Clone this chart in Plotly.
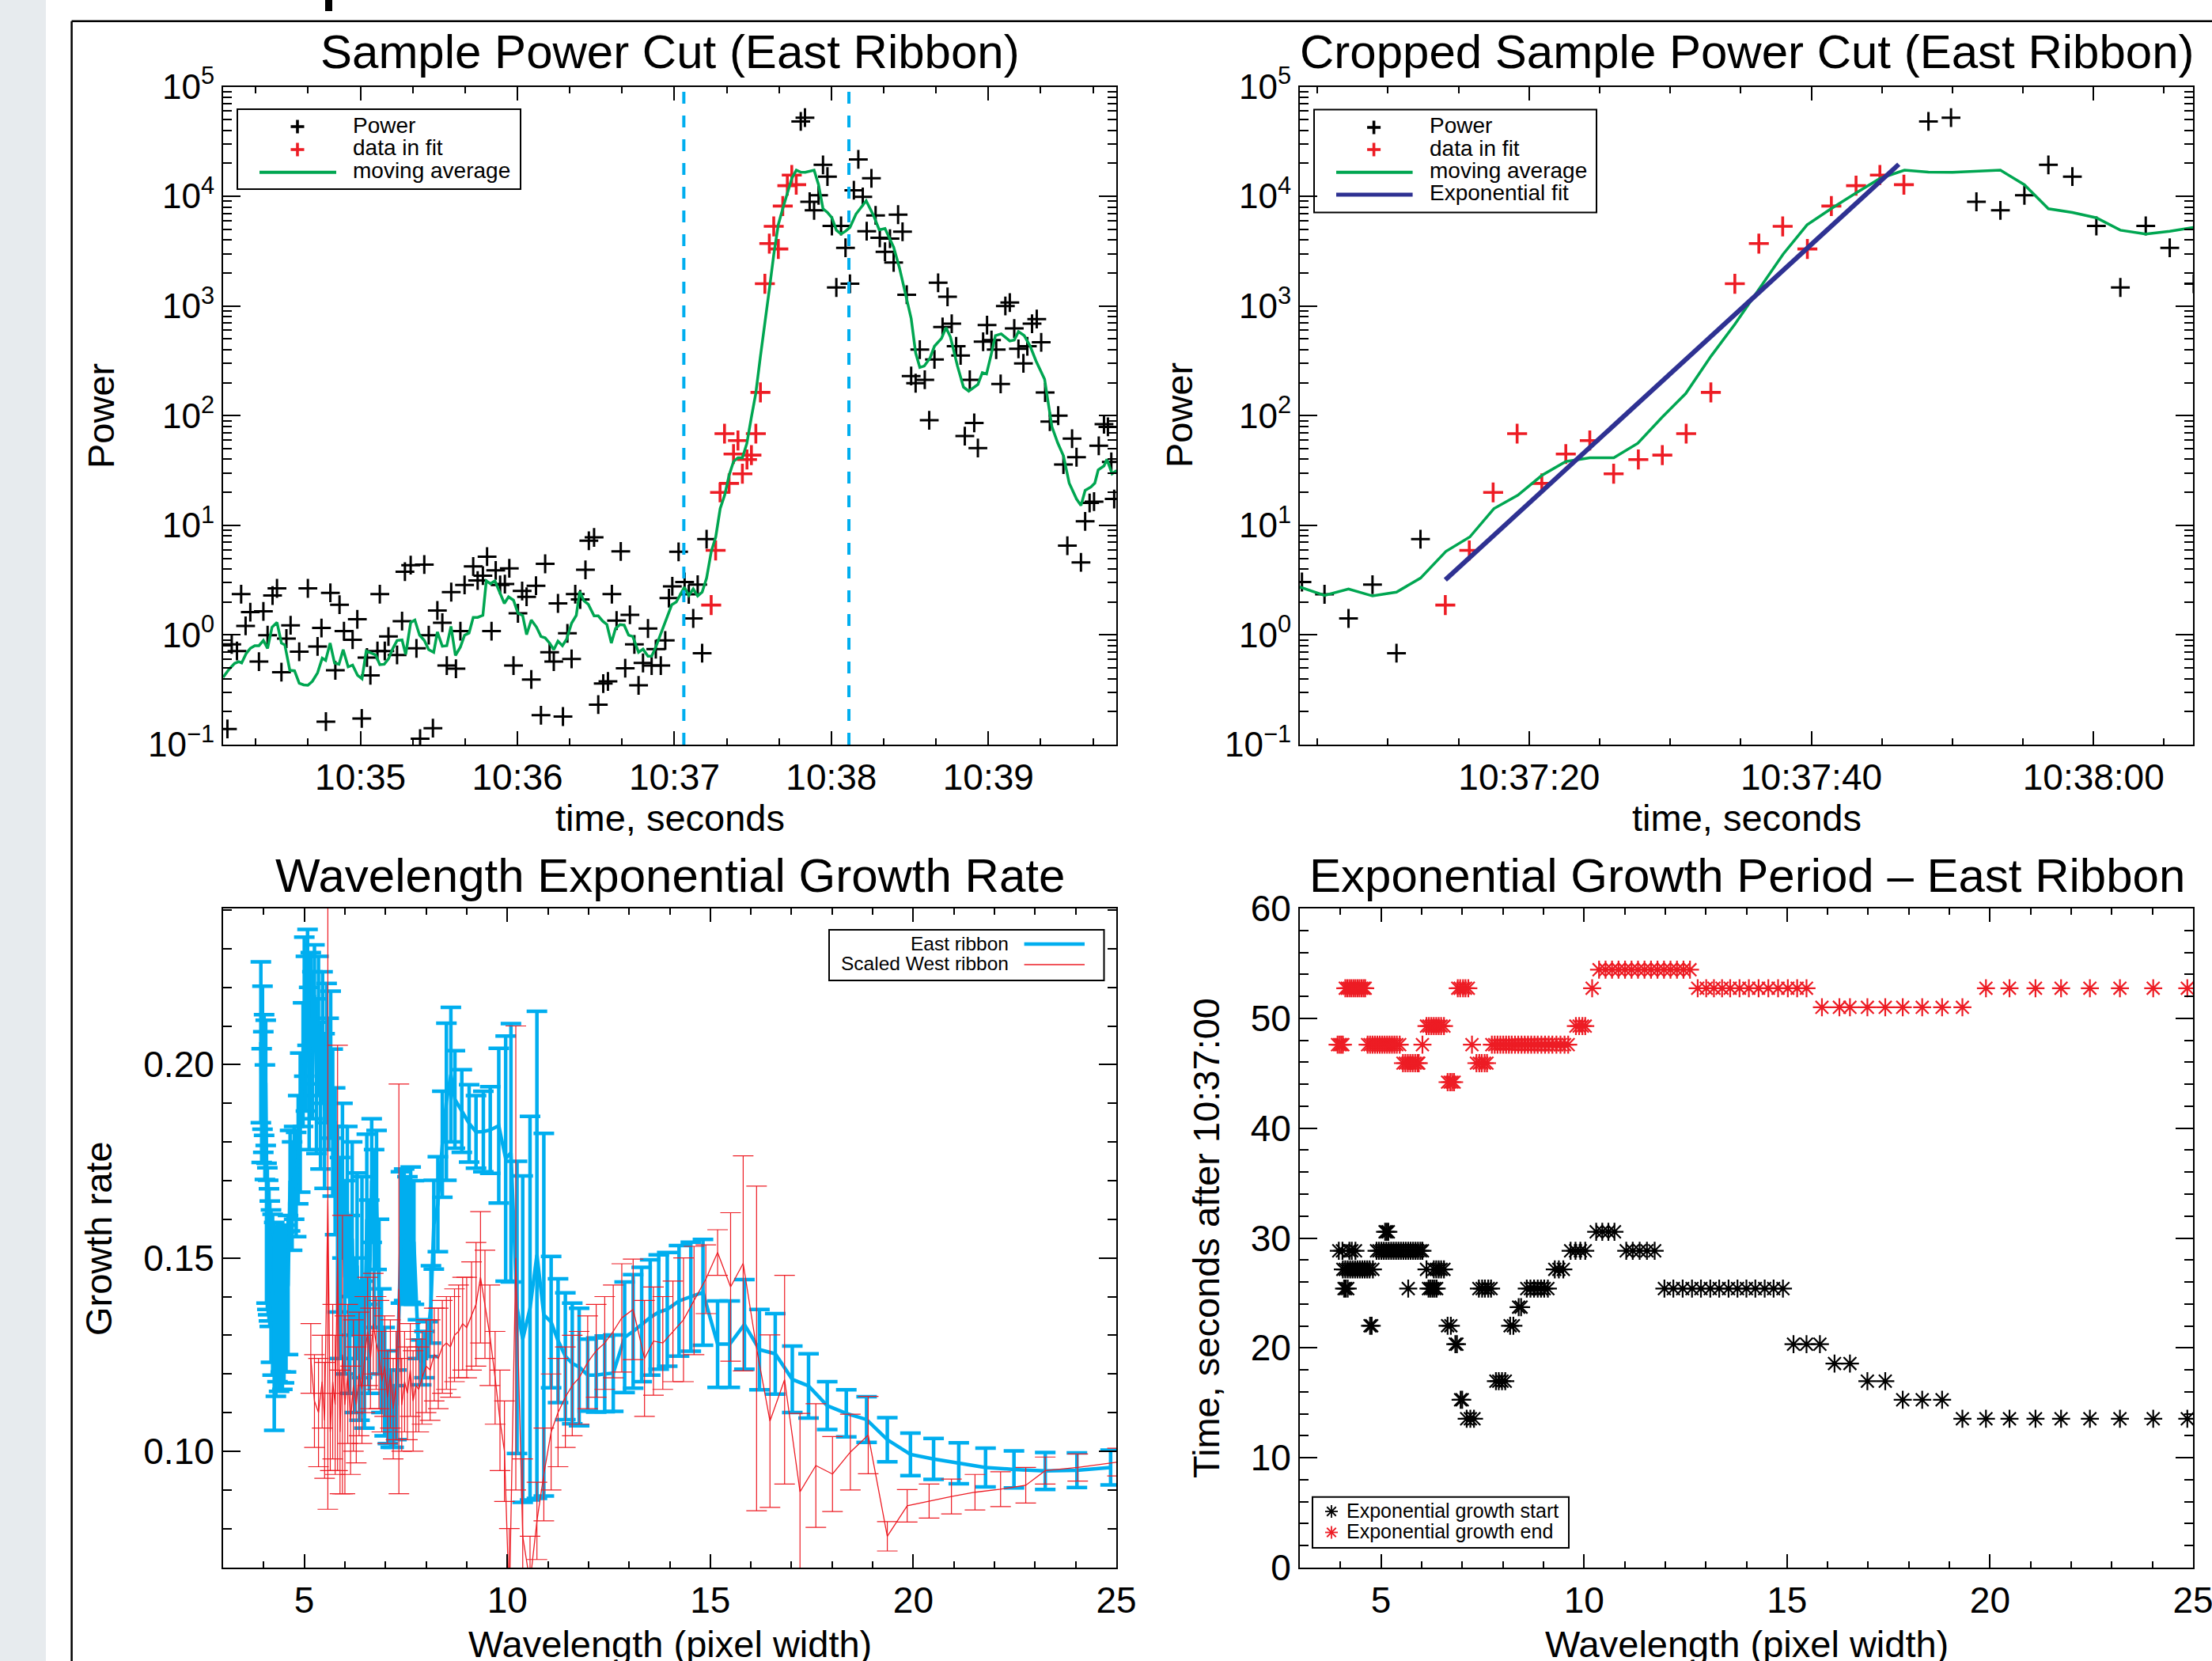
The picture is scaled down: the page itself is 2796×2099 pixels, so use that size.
import plotly.graph_objects as go
import pandas as pd

W, H = 2796, 2099
FONT = "Liberation Sans, Arial, Helvetica, sans-serif"
BLUE = "#00aeef"
RED = "#ed1c24"
GREEN = "#00a651"
NAVY = "#2e3192"

# ---------------- Power cut (seconds after 10:34:00, log10 power) ----------------
power_t = [9.15, 10.8, 12.8, 14.4, 16.1, 17.9, 21.2, 22.9, 24.5, 26.4, 28.1, 29.8, 31.7, 33.3, 35.0,
           36.6, 39.9, 43.6, 45.1, 46.8, 48.5, 50.4, 52.0, 53.7, 57.0, 58.8, 60.5, 62.5, 63.8, 66.5,
           67.4, 69.3, 70.7, 74.0, 75.9, 77.0, 79.2, 81.4, 82.8, 84.4, 86.1, 87.7, 89.4, 91.3, 93.0,
           94.7, 96.5, 98.2, 99.8, 103.1, 104.8, 106.8, 108.4, 110.1, 111.7, 113.4, 115.2, 116.9,
           118.5, 120.2, 121.8, 123.5, 125.3, 127.1, 129.0, 130.6, 132.3, 133.9, 135.5, 137.4, 139.1,
           140.7, 142.1, 144.0, 146.0, 147.3, 149.3, 150.9, 152.8, 154.6, 156.1, 157.9, 159.5, 161.2,
           163.0, 164.7, 166.3, 168.0, 169.9, 171.3, 172.9, 174.8, 176.5, 177.9, 179.2, 181.6, 183.9,
           185.5, 187.2, 188.9, 190.6, 192.3,
           228.3, 229.9, 231.7, 233.4, 235.1, 236.8, 238.5, 240.2, 241.9, 243.7, 245.4, 247.1, 248.6,
           250.3, 252.0, 253.5, 255.3, 256.9, 258.5, 260.5, 262.4, 263.8, 265.5, 267.2, 268.8, 270.5,
           272.2, 273.8, 275.7, 277.4, 279.4, 280.8, 282.5, 284.4, 286.0, 287.7, 289.4, 291.0, 292.9,
           294.6, 296.0, 298.0, 299.5, 301.2, 303.0, 304.7, 306.5, 308.2, 309.9, 311.5, 313.4, 314.9,
           316.7, 318.5, 320.2, 321.7, 323.5, 326.7, 328.7, 330.2, 332.0, 333.7, 335.4, 337.0, 338.7,
           340.4, 342.2, 344.2, 345.7, 347.0, 348.1]
power_log = [-0.857, -0.086, -0.146, 0.372, 0.083, 0.208, -0.243, 0.215, -0.002, 0.36, 0.425, -0.339,
             -0.033, 0.088, -1.15, -0.153, 0.425, -0.105, 0.064, -0.79, 0.384, -0.322, 0.276, 0.035,
             -0.043, 0.143, -0.761, -0.206, -0.368, -0.146, 0.372, -0.146, -0.014, -0.182, 0.126,
             0.577, 0.637, -0.122, -0.946, 0.642, -0.002, -0.85, 0.223, 0.112, -0.279, 0.391, -0.308,
             0.035, 0.456, 0.625, 0.497, 0.541, 0.714, 0.035, 0.589, 0.456, 0.464, 0.608, -0.279,
             0.198, 0.401, 0.348, -0.406, 0.449, -0.732, 0.649, -0.158, -0.243, 0.288, -0.744, 0.015,
             -0.218, 0.372, 0.324, 0.594, 0.859, 0.89, -0.635, -0.443, -0.423, 0.372, 0.131, 0.762,
             -0.303, 0.184, -0.086, -0.459, -0.255, 0.059, -0.279, -0.129, -0.279, -0.05, 0.336, 0.444,
             0.758, 0.483, 0.371, 0.151, 0.459, -0.166, 0.874,
             4.683, 4.717, 3.95, 3.872, 4.009, 4.287, 4.18, 3.73, 3.169, 3.73, 3.53, 3.203, 4.055,
             4.337, 3.995, 3.682, 4.164, 3.826, 3.621, 3.494, 3.614, 3.397, 3.833, 3.677, 3.103, 2.361,
             2.296, 2.602, 2.327, 1.958, 2.513, 3.212, 2.809, 3.084, 2.838, 2.633, 2.549, 1.814, 2.327,
             1.934, 1.705, 2.674, 2.826, 2.689, 2.602, 2.289, 3.0, 3.031, 2.795, 2.609, 2.477, 2.633,
             2.838, 2.881, 2.669, 2.211, 1.946, 2.0, 1.554, 0.814, 1.79, 1.621, 0.662, 1.036, 1.204,
             1.216, 1.725, 1.922, 1.898, 1.578, 1.24]

fit_t = [194.06, 195.76, 197.45, 199.15, 200.9, 202.6, 204.3, 205.99, 207.74, 209.44, 211.13, 212.88,
         214.58, 216.28, 217.97, 219.72, 221.42, 223.17, 224.86, 226.56]
fit_log = [0.273, 0.771, 1.30, 1.836, 1.382, 1.65, 1.773, 1.47, 1.60, 1.64, 1.836, 2.212, 3.203, 3.569,
           3.726, 3.52, 3.911, 4.097, 4.194, 4.106]

ma_t = [7.5, 9.7, 11.9, 13.5, 14.6, 16.3, 17.9, 19.6, 21.2, 22.9, 24.5, 26.2, 28.1, 29.8, 31.1, 33.0,
        34.8, 36.6, 38.3, 39.9, 41.6, 43.6, 45.4, 46.7, 48.4, 50.1, 51.8, 53.4, 55.3, 57.0, 58.9, 60.6,
        62.2, 64.1, 65.8, 67.4, 69.1, 70.7, 72.4, 74.0, 75.9, 77.3, 79.2, 80.8, 82.6, 84.4, 86.1, 88.0,
        89.4, 91.3, 93.0, 94.6, 96.3, 98.2, 99.8, 101.5, 103.1, 104.8, 106.8, 108.1, 109.7, 111.4, 113.3,
        115.0, 116.6, 118.5, 120.2, 122.0, 123.5, 125.3, 127.3, 129.0, 130.6, 132.3, 133.9, 135.5, 137.2,
        138.8, 140.7, 142.5, 143.8, 145.4, 147.1, 149.3, 150.9, 152.6, 154.2, 155.9, 157.5, 159.2, 160.8,
        162.5, 164.1, 166.3, 168.0, 169.9, 171.3, 172.9, 174.6, 176.8, 179.0, 180.7, 183.8, 185.5, 187.2,
        188.9, 190.6, 192.3, 194.1, 195.8, 197.5, 199.2, 200.9, 202.6, 204.3, 206.0, 207.7, 209.4, 211.1,
        212.9, 214.6, 216.3, 218.0, 219.7, 221.4, 223.2, 224.9, 226.6, 228.3, 230.0, 231.7, 233.4, 235.1,
        236.8, 238.5, 240.2, 241.9, 243.7, 245.4, 247.1, 249.4, 251.4, 253.3, 256.1, 258.3, 260.5, 263.8,
        266.0, 268.3, 270.5, 272.2, 273.8, 275.5, 277.7, 279.4, 282.1, 283.8, 285.5, 288.2, 290.5, 292.5,
        296.0, 297.7, 299.3, 301.0, 302.7, 304.9, 308.2, 309.9, 311.5, 313.7, 316.0, 318.2, 321.5, 324.3,
        326.5, 328.7, 330.9, 333.7, 335.4, 337.0, 339.2, 340.7, 342.0, 344.2, 345.3, 347.3, 349.0]
ma_log = [-0.387, -0.315, -0.259, -0.243, -0.255, -0.170, -0.122, -0.098, -0.098, -0.050, -0.122, 0.071,
          0.114, -0.074, -0.091, -0.322, -0.327, -0.440, -0.455, -0.459, -0.423, -0.346, -0.211, -0.231,
          -0.074, -0.255, -0.267, -0.134, -0.291, -0.274, -0.368, -0.399, -0.146, -0.163, -0.182, -0.271,
          -0.267, -0.218, -0.122, -0.050, -0.045, -0.178, 0.114, 0.136, -0.002, -0.050, -0.134, -0.158,
          0.027, -0.103, -0.098, 0.078, -0.187, -0.110, -0.002, 0.018, 0.160, 0.160, 0.179, 0.493, 0.468,
          0.493, 0.384, 0.288, 0.348, 0.317, 0.198, 0.179, 0.003, 0.136, 0.071, -0.014, -0.026, -0.074,
          -0.134, -0.057, -0.098, -0.038, 0.107, 0.179, 0.396, 0.312, 0.280, 0.174, 0.174, 0.126, 0.095,
          -0.074, 0.059, 0.095, 0.090, -0.002, -0.014, -0.158, -0.129, -0.194, -0.194, -0.110, -0.002,
          0.131, 0.276, 0.300, 0.435, 0.361, 0.420, 0.356, 0.391, 0.518, 0.762, 0.894, 1.152, 1.274, 1.455,
          1.582, 1.616, 1.616, 1.748, 1.982, 2.202, 2.544, 2.837, 3.154, 3.472, 3.74, 3.887, 4.033, 4.165,
          4.238, 4.22, 4.219, 4.23, 4.238, 4.106, 3.887, 3.853, 3.804, 3.691, 3.657, 3.682, 3.716, 3.838,
          3.90, 3.959, 3.826, 3.694, 3.706, 3.537, 3.35, 3.103, 2.886, 2.573, 2.44, 2.452, 2.525, 2.633,
          2.705, 2.802, 2.718, 2.452, 2.26, 2.224, 2.284, 2.392, 2.38, 2.549, 2.73, 2.746, 2.681, 2.689,
          2.766, 2.73, 2.633, 2.5, 2.332, 1.898, 1.753, 1.633, 1.385, 1.24, 1.18, 1.318, 1.349, 1.385,
          1.506, 1.542, 1.602, 1.47, 1.50]

expfit_t = [194.06, 226.2]
expfit_log = [0.503, 4.292]
crop_window_t = [183.6, 246.7]
panel1_range_t = [7.5, 348.9]
panel2_range_t = [183.75, 247.05]

# ---------------- Growth rate vs wavelength ----------------
east_w = [3.93, 3.95, 3.97, 3.99, 4.01, 4.03, 4.05, 4.07, 4.09, 4.11, 4.13, 4.15, 4.18, 4.22, 4.26, 4.30,
          4.34, 4.38, 4.42, 4.46, 4.50, 4.55, 4.60, 4.65, 4.70, 4.75, 4.80, 4.85, 4.90, 4.97, 5.00, 5.04,
          5.08, 5.12, 5.16, 5.20, 5.25, 5.30, 5.35, 5.40, 5.45, 5.50, 5.55, 5.60, 5.65, 5.70, 5.76, 5.82,
          5.88, 5.94, 6.00, 6.06, 6.12, 6.18, 6.24, 6.30, 6.36, 6.42, 6.48, 6.54, 6.60, 6.66, 6.72, 6.78,
          6.84, 6.90, 6.98, 7.06, 7.13, 7.20, 7.27, 7.38, 7.46, 7.54, 7.62, 7.70, 7.80, 7.88, 7.96, 8.04,
          8.12, 8.19, 8.29, 8.40, 8.50, 8.61, 8.71, 8.88, 9.06, 9.23, 9.41, 9.58, 9.79, 9.96, 10.09, 10.24,
          10.38, 10.56, 10.73, 10.90, 11.08, 11.25, 11.43, 11.60, 11.77, 11.98, 12.19, 12.40, 12.61, 12.89,
          13.10, 13.31, 13.52, 13.73, 13.94, 14.23, 14.52, 14.82, 15.18, 15.48, 15.84, 16.21, 16.60, 17.02,
          17.42, 17.88, 18.35, 18.85, 19.36, 19.93, 20.50, 21.12, 21.78, 22.48, 23.25, 24.03, 24.86]
east_rate = [0.2058, 0.1894, 0.2018, 0.1929, 0.1973, 0.1851, 0.1953, 0.1564, 0.1550, 0.1527, 0.1508, 0.1485,
             0.1427, 0.1405, 0.1323, 0.1356, 0.1380, 0.1345, 0.1390, 0.1360, 0.1372, 0.1395, 0.1430, 0.1700,
             0.1660, 0.1720, 0.1690, 0.1780, 0.1850, 0.2000, 0.2150, 0.2080, 0.2200, 0.1990, 0.2120, 0.2050,
             0.2180, 0.1970, 0.2100, 0.1920, 0.2070, 0.1880, 0.2030, 0.1950, 0.2000, 0.1850, 0.1750, 0.1600,
             0.1500, 0.1700, 0.1450, 0.1620, 0.1380, 0.1550, 0.1300, 0.1480, 0.1260, 0.1450, 0.1250, 0.1600,
             0.1400, 0.1700, 0.1550, 0.1650, 0.1400, 0.1260, 0.1180, 0.1140, 0.1110, 0.1090, 0.1120, 0.1553,
             0.1560, 0.1545, 0.1560, 0.1540, 0.1290, 0.1230, 0.1250, 0.1290, 0.1380, 0.1586, 0.1639, 0.1794,
             0.1904, 0.1974, 0.1910, 0.1880, 0.1848, 0.1826, 0.1827, 0.1831, 0.1842, 0.1757, 0.1772, 0.1372,
             0.1290, 0.1370, 0.1508, 0.1353, 0.1334, 0.1286, 0.1246, 0.1227, 0.1218, 0.1197, 0.1197, 0.1200,
             0.1202, 0.1295, 0.1310, 0.1328, 0.1346, 0.1360, 0.1367, 0.1389, 0.1400, 0.1411, 0.1277, 0.1277,
             0.1328, 0.1263, 0.1252, 0.1186, 0.1169, 0.1118, 0.1098, 0.1082, 0.1030, 0.0992, 0.0980, 0.0969,
             0.0958, 0.0953, 0.0949, 0.0951, 0.0958]
east_err = [0.0208, 0.0147, 0.0185, 0.0156, 0.0156, 0.0148, 0.0162, 0.0181, 0.0183, 0.0174, 0.0171, 0.0162,
            0.0197, 0.0208, 0.0269, 0.0214, 0.0200, 0.0190, 0.0185, 0.0200, 0.0195, 0.0190, 0.0180, 0.0130,
            0.0140, 0.0120, 0.0135, 0.0140, 0.0180, 0.0160, 0.0180, 0.0200, 0.0150, 0.0210, 0.0170, 0.0190,
            0.0130, 0.0200, 0.0180, 0.0190, 0.0170, 0.0200, 0.0180, 0.0170, 0.0190, 0.0190, 0.0190, 0.0240,
            0.0260, 0.0200, 0.0250, 0.0220, 0.0230, 0.0250, 0.0200, 0.0240, 0.0180, 0.0260, 0.0190, 0.0220,
            0.0250, 0.0160, 0.0230, 0.0180, 0.0200, 0.0160, 0.0140, 0.0120, 0.0100, 0.0080, 0.0090, 0.0170,
            0.0170, 0.0165, 0.0175, 0.0160, 0.0050, 0.0058, 0.0060, 0.0045, 0.0100, 0.0115, 0.0123, 0.0137,
            0.0203, 0.0174, 0.0126, 0.0107, 0.0100, 0.0094, 0.0104, 0.0112, 0.0200, 0.0317, 0.0334, 0.0378,
            0.0422, 0.0496, 0.0630, 0.0469, 0.0170, 0.0160, 0.0164, 0.0156, 0.0152, 0.0093, 0.0096, 0.0098,
            0.0099, 0.0143, 0.0147, 0.0148, 0.0149, 0.0148, 0.0147, 0.0143, 0.0141, 0.0137, 0.0112, 0.0112,
            0.0116, 0.0104, 0.0104, 0.0086, 0.0083, 0.0062, 0.0061, 0.0059, 0.0057, 0.0055, 0.0053, 0.0053,
            0.0050, 0.0048, 0.0048, 0.0045, 0.0045]

west_w = [5.16, 5.25, 5.35, 5.44, 5.50, 5.58, 5.64, 5.70, 5.76, 5.82, 5.88, 5.94, 6.00, 6.07, 6.14, 6.21,
          6.28, 6.35, 6.42, 6.49, 6.56, 6.63, 6.70, 6.77, 6.84, 6.91, 6.98, 7.05, 7.12, 7.19, 7.26, 7.33,
          7.40, 7.47, 7.54, 7.61, 7.68, 7.75, 7.82, 7.90, 8.00, 8.10, 8.20, 8.30, 8.40, 8.50, 8.60, 8.70,
          8.80, 8.90, 9.00, 9.12, 9.23, 9.34, 9.45, 9.57, 9.70, 9.82, 9.93, 10.05, 10.21, 10.38, 10.56,
          10.73, 10.90, 11.08, 11.25, 11.43, 11.60, 11.77, 11.98, 12.19, 12.40, 12.61, 12.82, 13.10, 13.38,
          13.60, 13.83, 14.08, 14.34, 14.60, 14.89, 15.18, 15.50, 15.81, 16.14, 16.47, 16.83, 17.21, 17.60,
          18.01, 18.45, 18.89, 19.36, 19.85, 20.39, 20.94, 21.52, 22.15, 22.77, 23.25, 24.05, 25.03]
west_rate = [0.124, 0.113, 0.110, 0.118, 0.108, 0.165, 0.105, 0.118, 0.112, 0.150, 0.105, 0.125, 0.112,
             0.120, 0.108, 0.117, 0.112, 0.120, 0.116, 0.125, 0.131, 0.124, 0.133, 0.128, 0.125, 0.118,
             0.122, 0.114, 0.120, 0.111, 0.117, 0.142, 0.112, 0.118, 0.115, 0.121, 0.113, 0.117, 0.116,
             0.119, 0.122, 0.121, 0.125, 0.124, 0.127, 0.128, 0.127, 0.130, 0.131, 0.133, 0.132, 0.135,
             0.138, 0.145, 0.138, 0.130, 0.119, 0.108, 0.100, 0.060, 0.150, 0.078, 0.066, 0.082, 0.094,
             0.105, 0.110, 0.114, 0.117, 0.119, 0.123, 0.126, 0.128, 0.131, 0.1345, 0.1367, 0.124, 0.1285,
             0.128, 0.131, 0.134, 0.139, 0.1445, 0.1514, 0.1425, 0.1486, 0.1266, 0.1078, 0.1185, 0.0895,
             0.0963, 0.0941, 0.0998, 0.1042, 0.0780, 0.0859, 0.0871, 0.0883, 0.0894, 0.0902, 0.0912, 0.0950,
             0.0958, 0.0972]
west_err = [0.009, 0.012, 0.014, 0.012, 0.015, 0.080, 0.010, 0.020, 0.018, 0.055, 0.016, 0.036, 0.023,
            0.018, 0.014, 0.017, 0.015, 0.016, 0.014, 0.015, 0.014, 0.013, 0.013, 0.012, 0.014, 0.013,
            0.013, 0.012, 0.014, 0.013, 0.014, 0.053, 0.012, 0.013, 0.012, 0.012, 0.013, 0.012, 0.011,
            0.012, 0.012, 0.013, 0.012, 0.013, 0.012, 0.012, 0.013, 0.012, 0.012, 0.012, 0.013, 0.014,
            0.016, 0.017, 0.014, 0.013, 0.012, 0.013, 0.013, 0.020, 0.060, 0.020, 0.012, 0.010, 0.012,
            0.015, 0.014, 0.013, 0.013, 0.012, 0.012, 0.012, 0.012, 0.012, 0.014, 0.013, 0.015, 0.014,
            0.012, 0.013, 0.016, 0.014, 0.0089, 0.0059, 0.0192, 0.0278, 0.042, 0.0223, 0.027, 0.0203,
            0.016, 0.0097, 0.0098, 0.010, 0.0038, 0.0042, 0.0044, 0.0045, 0.0046, 0.0045, 0.0046, 0.0035,
            0.0035, 0.0036]

# ---------------- Exponential growth period (seconds after 10:37:00) ----------------
start_times = [30.57, 28.84, 27.15, 25.40, 23.71, 22.02, 20.34, 18.58, 16.97, 15.28, 13.55]
start_wavelengths = [
    [5.10, 5.14, 5.18, 10.30, 10.45, 10.60, 10.75],
    [3.96, 4.05, 4.22, 4.28, 4.37, 4.89, 4.95, 5.01, 5.07, 5.13, 5.19, 5.25, 5.31, 5.37, 5.43, 5.49, 5.55,
     5.61, 5.67, 5.73, 5.79, 5.85, 5.91, 5.97, 6.02, 9.67, 9.79, 9.91, 10.03, 11.04, 11.20, 11.37, 11.55, 11.74],
    [4.06, 4.12, 4.18, 4.24, 4.30, 4.36, 4.42, 4.48, 4.54, 4.60, 4.66, 4.72, 4.80, 6.12, 6.30, 6.36, 6.42,
     6.48, 6.55, 9.28, 9.38, 9.49],
    [4.09, 4.13, 4.18, 5.67, 6.17, 6.22, 6.27, 6.32, 6.37, 7.41, 7.49, 7.56, 7.64, 7.71, 8.59, 8.68, 8.77,
     8.86, 8.94, 9.02, 9.11, 11.98, 12.20, 12.43, 12.66, 12.88, 13.11, 13.33, 13.56, 13.78, 14.00, 14.22,
     14.45, 14.67, 14.90],
    [8.39, 8.45],
    [4.73, 4.77, 6.64, 6.72, 8.18, 8.26],
    [6.83, 6.87, 15.16, 15.48, 15.81],
    [16.17, 16.55],
    [7.83, 7.90, 7.98, 8.06, 16.98, 17.42],
    [6.96, 7.00, 17.85, 18.33, 18.82],
    [7.11, 7.20, 7.29, 19.32, 19.90, 20.48, 21.12, 21.75, 22.46, 23.20, 24.02, 24.86],
]
end_times = [54.42, 52.74, 51.00, 49.29, 47.60, 45.92, 44.19]
end_wavelengths = [
    [10.37, 10.53, 10.69, 10.85, 11.01, 11.17, 11.33, 11.49, 11.65, 11.81, 11.97, 12.13, 12.29, 12.45, 12.61],
    [4.12, 4.17, 4.22, 4.27, 4.32, 4.37, 4.42, 4.47, 4.52, 4.57, 4.61, 6.89, 6.95, 7.02, 7.08, 7.15, 10.20,
     12.80, 13.01, 13.20, 13.40, 13.60, 13.83, 14.06, 14.30, 14.54, 14.78, 15.02, 15.25, 15.48, 19.90, 20.48,
     21.12, 21.75, 22.46, 23.20, 24.02, 24.86],
    [15.86, 16.29, 16.55, 16.98, 17.42, 17.85, 18.33, 18.82, 19.32],
    [6.12, 6.18, 6.24, 6.30, 6.36, 6.42, 6.48, 6.55, 9.80, 9.88, 9.96, 10.03],
    [3.93, 3.98, 4.02, 4.06, 4.67, 4.73, 4.79, 4.85, 4.91, 4.97, 5.03, 5.09, 5.15, 5.21, 5.27, 5.33, 5.39,
     5.46, 6.02, 7.24, 7.73, 7.80, 7.87, 7.94, 8.01, 8.08, 8.15, 8.22, 8.30, 8.38, 8.46, 8.54, 8.62, 8.70,
     8.78, 8.86, 8.95, 9.04, 9.13, 9.22, 9.32, 9.42, 9.52, 9.61],
    [5.54, 5.60, 5.66, 5.72, 5.78, 5.84, 5.90, 5.93, 7.35, 7.42, 7.48, 7.55, 7.61],
    [6.64, 6.70, 6.75, 6.80],
]

# ---------------- helpers ----------------
base = pd.Timestamp("2014-01-01 10:34:00")


def clock(secs):
    return [(base + pd.Timedelta(seconds=s)).strftime("%Y-%m-%d %H:%M:%S.%f")[:-3] for s in secs]


def pw(logs):
    return [10 ** v for v in logs]


def expand(levels, groups):
    xs, ys = [], []
    for lv, g in zip(levels, groups):
        xs += g
        ys += [lv] * len(g)
    return xs, ys


def fx(p):
    return p / W


def fy(p):
    return 1 - p / H


X1 = [fx(282), fx(1411)]
X2 = [fx(1643), fx(2772)]
YT = [fy(941), fy(109.5)]
YB = [fy(1981), fy(1148)]


def cross(color, size, lw):
    return dict(symbol="cross-thin", size=size, color=color, line=dict(color=color, width=lw))


def star(color, size=19, lw=2.2):
    return dict(symbol="asterisk-open", size=size, color=color, line=dict(color=color, width=lw))


fig = go.Figure()

for xa, ya in [("x", "y"), ("x2", "y2")]:
    fig.add_trace(go.Scatter(x=clock(power_t), y=pw(power_log), mode="markers",
                             marker=cross("black", 17, 3), xaxis=xa, yaxis=ya))
    fig.add_trace(go.Scatter(x=clock(fit_t), y=pw(fit_log), mode="markers",
                             marker=cross(RED, 18, 3.6), xaxis=xa, yaxis=ya))
    fig.add_trace(go.Scatter(x=clock(ma_t), y=pw(ma_log), mode="lines",
                             line=dict(color=GREEN, width=3.5), xaxis=xa, yaxis=ya))
fig.add_trace(go.Scatter(x=clock(expfit_t), y=pw(expfit_log), mode="lines",
                         line=dict(color=NAVY, width=6), xaxis="x2", yaxis="y2"))

fig.add_trace(go.Scatter(x=east_w, y=east_rate, mode="lines", line=dict(color=BLUE, width=4.5),
                         error_y=dict(type="data", array=east_err, color=BLUE, thickness=4.5, width=13),
                         xaxis="x3", yaxis="y3"))
fig.add_trace(go.Scatter(x=west_w, y=west_rate, mode="lines", line=dict(color=RED, width=1.3),
                         error_y=dict(type="data", array=west_err, color=RED, thickness=1.2, width=13),
                         xaxis="x3", yaxis="y3"))

sx, sy = expand(start_times, start_wavelengths)
ex, ey = expand(end_times, end_wavelengths)
fig.add_trace(go.Scatter(x=sx, y=sy, mode="markers", marker=star("black"), xaxis="x4", yaxis="y4"))
fig.add_trace(go.Scatter(x=ex, y=ey, mode="markers", marker=star(RED), xaxis="x4", yaxis="y4"))


def common(ticklen, size=46):
    return dict(showline=True, linecolor="black", linewidth=2, mirror="allticks", ticks="inside",
                ticklen=ticklen, tickwidth=2, tickcolor="black", showgrid=False, zeroline=False,
                ticklabeloverflow="allow",
                tickfont=dict(family=FONT, size=size, color="black"))


def minor(ticklen, **kw):
    d = dict(ticks="inside", ticklen=ticklen, tickwidth=2, tickcolor="black", showgrid=False)
    d.update(kw)
    return d


decades = [10.0 ** e for e in range(-1, 6)]
decade_text = ["10<sup>\u22121</sup>"] + ["10<sup>%d</sup>" % e for e in range(0, 6)]

logy = dict(type="log", range=[-1, 5], tickmode="array", tickvals=decades, ticktext=decade_text,
            minor=minor(11, dtick="D1"), **common(22, 44))
t0 = clock([0])[0]

fig.update_layout(
    width=W, height=H, margin=dict(l=0, r=0, t=0, b=0, pad=0, autoexpand=False), paper_bgcolor="white",
    plot_bgcolor="white", showlegend=False, font=dict(family=FONT, color="black"),
    xaxis=dict(domain=X1, anchor="y", type="date", range=clock(panel1_range_t), tickformat="%H:%M",
               dtick=60000, tick0=t0, minor=minor(8, dtick=20000, tick0=t0), **common(17)),
    yaxis=dict(domain=YT, anchor="x", **logy),
    xaxis2=dict(domain=X2, anchor="y2", type="date", range=clock(panel2_range_t), tickformat="%H:%M:%S",
                dtick=20000, tick0=t0, minor=minor(8, dtick=5000, tick0=t0), **common(17)),
    yaxis2=dict(domain=YT, anchor="x2", **logy),
    xaxis3=dict(domain=X1, anchor="y3", range=[3, 25], dtick=5, tick0=0, minor=minor(8, dtick=1, tick0=0),
                **common(17)),
    yaxis3=dict(domain=YB, anchor="x3", range=[0.0699, 0.2404], dtick=0.05, tick0=0, tickformat=".2f",
                minor=minor(11, dtick=0.01, tick0=0), **common(22)),
    xaxis4=dict(domain=X2, anchor="y4", range=[3, 25.0001], dtick=5, tick0=0,
                minor=minor(8, dtick=1, tick0=0), **common(17)),
    yaxis4=dict(domain=YB, anchor="x4", range=[0, 60], dtick=10, tick0=0,
                minor=minor(11, dtick=2, tick0=0), **common(22)),
)

shapes = []


def pline(x0, y0, x1, y1, color="black", width=2, dash=None):
    ln = dict(color=color, width=width)
    if dash:
        ln["dash"] = dash
    shapes.append(dict(type="line", xref="paper", yref="paper", x0=fx(x0), y0=fy(y0), x1=fx(x1), y1=fy(y1),
                       line=ln))


shapes.append(dict(type="rect", xref="paper", yref="paper", x0=0, x1=fx(58), y0=0, y1=1,
                   fillcolor="#e7ebee", line=dict(width=0), layer="below"))
pline(90.6, 26.7, 90.6, H, width=2.5)
pline(90.6, 26.7, W, 26.7, width=2.5)
shapes.append(dict(type="rect", xref="paper", yref="paper", x0=fx(411), x1=fx(420), y0=1, y1=fy(14),
                   fillcolor="black", line=dict(width=0)))
for t in clock(crop_window_t):
    shapes.append(dict(type="line", xref="x", yref="y domain", x0=t, x1=t, y0=0, y1=1,
                       line=dict(color=BLUE, width=4, dash="15px,15px")))
for (x0, y0, x1, y1) in [(300, 138, 658, 239), (1661, 138.6, 2018, 268.4),
                         (1048, 1175, 1395.5, 1239), (1659, 1891.7, 1983, 1956)]:
    shapes.append(dict(type="rect", xref="paper", yref="paper", x0=fx(x0), x1=fx(x1), y0=fy(y0), y1=fy(y1),
                       line=dict(color="black", width=2)))
for (x0, x1, y, c, w) in [(328, 425, 217.7, GREEN, 4), (1689, 1785.6, 217.7, GREEN, 4),
                          (1689, 1785.6, 246, NAVY, 5), (1294.6, 1371, 1193, BLUE, 4.5),
                          (1294.6, 1371, 1219, RED, 1.3)]:
    pline(x0, y, x1, y, color=c, width=w)


def plus_glyph(cx, cy, color, r=8.5, w=3.6):
    pline(cx - r, cy, cx + r, cy, color, w)
    pline(cx, cy - r, cx, cy + r, color, w)


def star_glyph(cx, cy, color, r=8, w=1.8):
    pline(cx - r, cy, cx + r, cy, color, w)
    pline(cx, cy - r, cx, cy + r, color, w)
    d = r * 0.72
    pline(cx - d, cy - d, cx + d, cy + d, color, w)
    pline(cx - d, cy + d, cx + d, cy - d, color, w)


plus_glyph(376, 160, "black")
plus_glyph(376, 189, RED)
plus_glyph(1736.6, 161, "black")
plus_glyph(1736.6, 189, RED)
star_glyph(1683, 1910, "black")
star_glyph(1683, 1936.5, RED)
fig.update_layout(shapes=shapes)

ann = []


def text(s, x, y, size, xanchor="center", angle=0):
    ann.append(dict(text=s, x=fx(x), y=fy(y), xref="paper", yref="paper", xanchor=xanchor,
                    yanchor="middle", showarrow=False, textangle=angle,
                    font=dict(family=FONT, size=size, color="black")))


text("Sample Power Cut (East Ribbon)", 847, 66, 60)
text("Cropped Sample Power Cut (East Ribbon)", 2208, 66, 60)
text("Wavelength Exponential Growth Rate", 847, 1106, 60)
text("Exponential Growth Period \u2013 East Ribbon", 2208, 1106, 60)
text("time, seconds", 847, 1033, 47)
text("time, seconds", 2208, 1033, 47)
text("Wavelength (pixel width)", 847, 2077, 47)
text("Wavelength (pixel width)", 2208, 2077, 47)
text("Power", 127, 525, 47, angle=-90)
text("Power", 1490, 525, 47, angle=-90)
text("Growth rate", 124, 1565, 47, angle=-90)
text("Time, seconds after 10:37:00", 1524, 1565, 47, angle=-90)
for s, y in [("Power", 158), ("data in fit", 187), ("moving average", 216)]:
    text(s, 444, y, 28, xanchor="left")
for s, y in [("Power", 159), ("data in fit", 188), ("moving average", 216), ("Exponential fit", 244)]:
    text(s, 1805, y, 28, xanchor="left")
text("East ribbon", 1277, 1192, 24.5, xanchor="right")
text("Scaled West ribbon", 1277, 1217, 24.5, xanchor="right")
text("Exponential growth start", 1700, 1909, 25, xanchor="left")
text("Exponential growth end", 1700, 1935, 25, xanchor="left")
fig.update_layout(annotations=ann)

fig.write_html("out.html", config={"displayModeBar": False})
